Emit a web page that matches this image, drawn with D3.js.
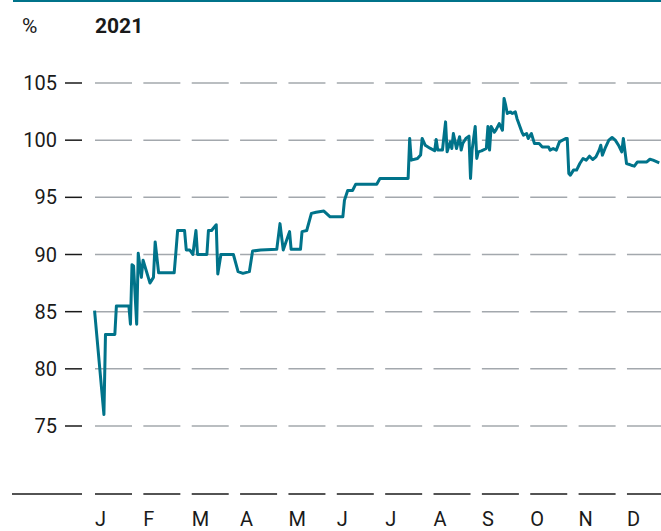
<!DOCTYPE html>
<html>
<head>
<meta charset="utf-8">
<script src="https://cdn.jsdelivr.net/npm/d3@7"></script>
<style>
  body { margin: 0; background: #fff; }
  text { font-family: Roboto, "Noto Sans", sans-serif; fill: #1a1a1a; }
</style>
</head>
<body>
<div id="chart"></div>
<script>
// data
var monthLabels = ["J", "F", "M", "A", "M", "J", "J", "A", "S", "O", "N", "D"];
var yTicks = [75, 80, 85, 90, 95, 100, 105];
var unitLabel = "%";
var yearLabel = "2021";

var dates = [
  "2021-01-02","2021-01-08","2021-01-09","2021-01-15","2021-01-16","2021-01-24","2021-01-25","2021-01-26",
  "2021-01-27","2021-01-29","2021-01-30","2021-02-01","2021-02-02","2021-02-06","2021-02-08","2021-02-09",
  "2021-02-11","2021-02-20","2021-02-21","2021-02-22","2021-02-26","2021-02-27","2021-03-01","2021-03-03",
  "2021-03-05","2021-03-06","2021-03-12","2021-03-13","2021-03-15","2021-03-18","2021-03-19","2021-03-21",
  "2021-03-29","2021-04-01","2021-04-04","2021-04-08","2021-04-10","2021-04-15","2021-04-25","2021-04-27",
  "2021-04-29","2021-05-03","2021-05-04","2021-05-10","2021-05-11","2021-05-14","2021-05-17","2021-05-20",
  "2021-05-25","2021-05-29","2021-06-06","2021-06-07","2021-06-09","2021-06-12","2021-06-14","2021-06-27",
  "2021-06-29","2021-07-17","2021-07-18","2021-07-19","2021-07-23","2021-07-25","2021-07-26","2021-07-28",
  "2021-07-31","2021-08-03","2021-08-04","2021-08-05","2021-08-08","2021-08-10","2021-08-11","2021-08-13",
  "2021-08-14","2021-08-15","2021-08-17","2021-08-19","2021-08-20","2021-08-21","2021-08-23","2021-08-25",
  "2021-08-26","2021-08-27","2021-08-29","2021-08-30","2021-08-31","2021-09-02","2021-09-05","2021-09-06",
  "2021-09-07","2021-09-08","2021-09-10","2021-09-11","2021-09-13","2021-09-15","2021-09-16","2021-09-17",
  "2021-09-18","2021-09-20","2021-09-21","2021-09-23","2021-09-24","2021-09-27","2021-09-28","2021-09-30",
  "2021-10-01","2021-10-03","2021-10-05","2021-10-08","2021-10-10","2021-10-14","2021-10-15","2021-10-17",
  "2021-10-19","2021-10-21","2021-10-25","2021-10-26","2021-10-27","2021-10-28","2021-10-30","2021-11-01",
  "2021-11-03","2021-11-05","2021-11-07","2021-11-09","2021-11-11","2021-11-13","2021-11-15","2021-11-16",
  "2021-11-17","2021-11-19","2021-11-21","2021-11-23","2021-11-25","2021-11-27","2021-11-29","2021-11-30",
  "2021-12-02","2021-12-05","2021-12-07","2021-12-09","2021-12-15","2021-12-17","2021-12-19","2021-12-23"
];

var values = [
  85.1, 76.0, 83.0, 83.0, 85.5, 85.5, 83.9, 89.1,
  89.0, 83.9, 90.1, 88.0, 89.5, 87.5, 88.0, 91.1,
  88.4, 88.4, 90.2, 92.1, 92.1, 90.4, 90.4, 90.0,
  92.1, 90.0, 90.0, 92.1, 92.1, 92.6, 88.3, 90.0,
  90.0, 88.5, 88.35, 88.5, 90.3, 90.4, 90.45, 92.7,
  90.4, 92.0, 90.45, 90.45, 92.0, 92.1, 93.6, 93.7,
  93.8, 93.3, 93.3, 94.75, 95.6, 95.6, 96.15, 96.15,
  96.65, 96.65, 100.15, 98.25, 98.4, 98.7, 100.15, 99.55,
  99.3, 99.07, 100.06, 99.13, 99.13, 101.6, 98.98, 99.85,
  99.27, 100.58, 99.27, 100.3, 99.13, 99.7, 100.15, 100.35,
  96.65, 99.13, 101.2, 98.4, 98.98, 99.06, 99.27, 101.2,
  99.13, 101.2, 100.7, 100.9, 101.45, 100.87, 103.65, 103.06,
  102.33, 102.47, 102.33, 102.47, 101.9, 100.73, 100.44, 100.58,
  100.15, 100.58, 99.7, 99.7, 99.4, 99.4, 99.13, 99.27,
  99.13, 99.85, 100.15, 100.15, 97.09, 96.94, 97.38, 97.38,
  97.96, 98.4, 98.25, 98.6, 98.31, 98.54, 99.13, 99.56,
  98.69, 99.4, 100.0, 100.23, 100.0, 99.56, 98.98, 100.15,
  97.96, 97.81, 97.73, 98.1, 98.1, 98.33, 98.25, 98.02
];

var width = 661, height = 531;

var svg = d3.select("#chart")
  .append("svg")
    .attr("width", width)
    .attr("height", height);

var parse = d3.timeParse("%Y-%m-%d");
var data = dates.map(function(d, i) { return [parse(d), values[i]]; });

// every month gets the same width
var monthStarts = d3.range(13).map(function(m) { return new Date(2021, m, 1); });
var x0 = 93, monthW = 48.36;
var x = d3.scaleTime()
  .domain(monthStarts)
  .range(monthStarts.map(function(d, i) { return x0 + i * monthW; }));

var y = d3.scaleLinear()
  .domain([75, 105])
  .range([426, 83]);

var baseY = 494;

// top rule
svg.append("line")
  .attr("x1", 13).attr("x2", width)
  .attr("y1", 1).attr("y2", 1)
  .attr("stroke", "#00738a")
  .attr("stroke-width", 2);

// header
svg.append("text").attr("x", 22).attr("y", 33)
  .style("font-size", "21px").text(unitLabel);
svg.append("text").attr("x", 95).attr("y", 33)
  .style("font-size", "21px").style("font-weight", "bold").text(yearLabel);

// dashed gridlines, one piece per month
var segs = monthStarts.slice(0, 12);
yTicks.forEach(function(t) {
  var g = svg.append("g");
  g.selectAll("line.grid")
    .data(segs)
  .enter().append("line")
    .attr("class", "grid")
    .attr("x1", function(d) { return x(d) + 2; })
    .attr("x2", function(d) { return Math.min(x(d) + 39, width); })
    .attr("y1", y(t)).attr("y2", y(t))
    .attr("stroke", "#a3a8ad")
    .attr("stroke-width", 1.5);
  g.append("line")
    .attr("x1", 65).attr("x2", 82)
    .attr("y1", y(t)).attr("y2", y(t))
    .attr("stroke", "#1a1a1a")
    .attr("stroke-width", 1.5);
  g.append("text")
    .attr("x", 57).attr("y", y(t) + 7)
    .attr("text-anchor", "end")
    .style("font-size", "20px")
    .text(t);
});

// bottom axis
var axis = svg.append("g");
axis.append("line")
  .attr("x1", 12).attr("x2", 82)
  .attr("y1", baseY).attr("y2", baseY)
  .attr("stroke", "#1a1a1a").attr("stroke-width", 1.5);
axis.selectAll("line.seg")
  .data(segs)
.enter().append("line")
  .attr("class", "seg")
  .attr("x1", function(d) { return x(d) + 2; })
  .attr("x2", function(d) { return Math.min(x(d) + 39, width); })
  .attr("y1", baseY).attr("y2", baseY)
  .attr("stroke", "#1a1a1a").attr("stroke-width", 1.5);
axis.selectAll("text")
  .data(segs)
.enter().append("text")
  .attr("x", function(d) { return x(d) + 2; })
  .attr("y", 526)
  .style("font-size", "20px")
  .text(function(d, i) { return monthLabels[i]; });

// the series
var line = d3.line()
  .x(function(d) { return x(d[0]); })
  .y(function(d) { return y(d[1]); });

svg.append("path")
  .datum(data)
  .attr("fill", "none")
  .attr("stroke", "#00738a")
  .attr("stroke-width", 3)
  .attr("stroke-linejoin", "round")
  .attr("d", line);
</script>
</body>
</html>
